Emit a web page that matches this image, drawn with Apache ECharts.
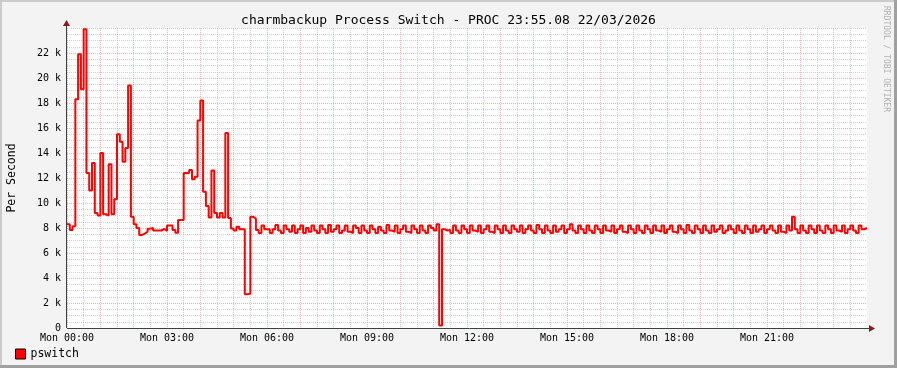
<!DOCTYPE html>
<html><head><meta charset="utf-8">
<script src="https://cdn.jsdelivr.net/npm/echarts@6/dist/echarts.min.js"></script>
<style>html,body{margin:0;padding:0;background:#f3f3f3}#c{width:897px;height:368px}</style>
</head><body><div id="c"></div>
<script>
// ---- data (5-minute steps, values in thousands per second) ----
const stepMinutes = 5;
const pswitchK = [
  // 00:00
  8.3, 7.85, 8.15, 18.3, 21.9, 19.1, 23.9, 12.4, 11.0, 13.2, 9.2, 9.0,
  // 01:00
  14.0, 9.1, 9.0, 13.1, 9.1, 10.3, 15.5, 14.9, 13.3, 14.4, 19.4, 8.9,
  // 02:00
  8.3, 8.0, 7.45, 7.55, 7.7, 7.95, 8.0, 7.8, 7.8, 7.8, 7.92, 7.76,
  // 03:00
  8.2, 8.2, 7.84, 7.63, 8.64, 8.64, 12.4, 12.4, 12.64, 11.9, 12.1, 16.6,
  // 04:00
  18.2, 10.9, 9.76, 8.85, 12.6, 9.2, 8.85, 9.2, 8.85, 15.6, 8.8, 7.97,
  // 05:00
  7.8, 8.1, 7.9, 7.9, 2.7, 2.75, 8.9, 8.75, 7.85, 7.6, 8.2, 7.9,
  // 06:00
  7.9, 7.6, 7.9, 8.25, 7.8, 7.6, 8.2, 7.9, 7.7, 8.2, 7.6, 7.9,
  // 07:00
  8.2, 7.6, 8.0, 7.7, 8.2, 7.8, 7.6, 8.2, 7.9, 7.6, 8.25, 7.7,
  // 08:00
  7.9, 8.2, 7.6, 7.8, 8.2, 7.7, 7.6, 8.2, 8.0, 7.6, 8.2, 7.8,
  // 09:00
  7.6, 8.2, 7.9, 7.6, 8.1, 7.8, 7.6, 8.25, 7.8, 7.7, 8.2, 7.6,
  // 10:00
  7.9, 8.2, 7.7, 7.6, 8.2, 7.9, 7.6, 8.2, 7.8, 7.6, 8.2, 8.0,
  // 11:00
  7.8, 8.3, 0.2, 7.9, 7.8, 7.85, 7.6, 8.2, 7.8, 7.6, 8.2, 7.9,
  // 12:00
  7.6, 8.2, 7.8, 7.7, 8.2, 7.6, 7.9, 8.2, 7.7, 7.6, 8.2, 7.9,
  // 13:00
  7.6, 8.2, 7.8, 7.6, 8.2, 7.9, 7.7, 8.2, 7.6, 7.9, 8.2, 7.8,
  // 14:00
  7.6, 8.25, 7.9, 7.6, 8.2, 7.8, 7.6, 8.2, 7.7, 7.9, 8.2, 7.6,
  // 15:00
  7.9, 8.3, 7.8, 7.6, 8.2, 7.9, 7.6, 8.2, 7.8, 7.6, 8.2, 7.9,
  // 16:00
  7.6, 8.2, 7.8, 7.7, 8.2, 7.6, 7.9, 8.2, 7.7, 7.6, 8.2, 7.9,
  // 17:00
  7.6, 8.2, 7.8, 7.6, 8.2, 7.9, 7.6, 8.2, 7.8, 7.7, 8.2, 7.6,
  // 18:00
  7.9, 8.2, 7.7, 7.6, 8.2, 7.9, 7.6, 8.25, 7.8, 7.6, 8.2, 7.9,
  // 19:00
  7.6, 8.2, 7.8, 7.6, 8.2, 7.7, 7.9, 8.2, 7.6, 7.8, 8.2, 7.9,
  // 20:00
  7.6, 8.2, 7.8, 7.6, 8.2, 7.9, 7.6, 8.2, 7.7, 7.9, 8.2, 7.6,
  // 21:00
  7.9, 8.2, 7.8, 7.6, 8.2, 7.7, 7.6, 8.2, 7.8, 8.9, 7.9, 7.6,
  // 22:00
  8.2, 7.8, 7.6, 8.2, 7.9, 7.6, 8.2, 7.8, 7.6, 8.2, 7.9, 7.6,
  // 23:00
  8.2, 7.8, 7.7, 8.2, 7.6, 7.9, 8.2, 7.8, 7.6, 8.2, 7.9, 8.0
];
const xTickLabels = ['Mon 00:00','Mon 03:00','Mon 06:00','Mon 09:00','Mon 12:00','Mon 15:00','Mon 18:00','Mon 21:00'];
const yTickLabels = ['0','2 k','4 k','6 k','8 k','10 k','12 k','14 k','16 k','18 k','20 k','22 k'];
const seriesName = 'pswitch';
const titleText = 'charmbackup Process Switch - PROC 23:55.08 22/03/2026';
const yAxisTitle = 'Per Second';
const watermark = 'RRDTOOL / TOBI OETIKER';

// ---- layout / style ----
const MONO = '"DejaVu Sans Mono", monospace';
const G = {left: 67, top: 28, width: 800, height: 300};
const MAJOR = 'rgba(220,120,120,0.55)';
const MINOR = 'rgba(150,150,150,0.45)';
const xColors = [], yColors = [];
for (let k = 0; k <= 48; k++) {
  xColors.push(k === 48 ? 'rgba(0,0,0,0)' : (k % 2 === 0 ? MAJOR : MINOR));
  yColors.push(k === 48 ? MINOR : (k % 4 === 0 ? MAJOR : MINOR));
}
const lineData = pswitchK.map((v, i) => [i * stepMinutes, v]);
lineData.push([pswitchK.length * stepMinutes, pswitchK[pswitchK.length - 1]]);

const chart = echarts.init(document.getElementById('c'), null, {renderer: 'canvas'});
const axR = G.left + G.width, axB = G.top + G.height;
chart.setOption({
  animation: false,
  backgroundColor: '#f3f3f3',
  title: {
    text: titleText, left: 'center', top: 9,
    textStyle: {fontFamily: MONO, fontSize: 13, fontWeight: 'normal', color: '#000'}
  },
  legend: {
    left: 15, top: 348, padding: 0, icon: 'rect', itemWidth: 10, itemHeight: 10,
    itemStyle: {borderColor: '#000', borderWidth: 1},
    textStyle: {fontFamily: MONO, fontSize: 11.5, color: '#000'},
    data: [seriesName]
  },
  grid: {left: G.left, top: G.top, width: G.width, height: G.height, show: true,
         backgroundColor: '#ffffff', borderWidth: 0, containLabel: false, outerBoundsMode: 'none'},
  xAxis: {
    type: 'value', min: 0, max: 1440, interval: 30,
    axisLine: {show: false}, axisTick: {show: false},
    axisLabel: {
      fontFamily: MONO, fontSize: 10, color: '#000', margin: 5,
      showMinLabel: true, showMaxLabel: false,
      formatter: v => (v % 180 === 0 && v < 1440) ? xTickLabels[v / 180] : ''
    },
    splitLine: {show: true, lineStyle: {color: xColors, width: 1, type: [1, 1]}}
  },
  yAxis: {
    type: 'value', min: 0, max: 24, interval: 0.5,
    name: yAxisTitle, nameLocation: 'middle', nameRotate: 90, nameGap: 49,
    nameTextStyle: {fontFamily: MONO, fontSize: 11.5, color: '#000'},
    axisLine: {show: false}, axisTick: {show: false},
    axisLabel: {
      fontFamily: MONO, fontSize: 10, color: '#000', margin: 6,
      formatter: v => (v % 2 === 0 && v < 24) ? yTickLabels[v / 2] : ''
    },
    splitLine: {show: true, lineStyle: {color: yColors, width: 1, type: [1, 1]}}
  },
  series: [{
    name: seriesName, type: 'line', step: 'end', data: lineData,
    showSymbol: false, symbol: 'none',
    lineStyle: {color: '#ff0000', width: 2}, itemStyle: {color: '#ff0000'}
  }],
  graphic: [
    {type: 'rect', shape: {x: 0, y: 0, width: 897, height: 2}, style: {fill: '#cbcbcb'}, silent: true},
    {type: 'rect', shape: {x: 0, y: 0, width: 2, height: 368}, style: {fill: '#cbcbcb'}, silent: true},
    {type: 'rect', shape: {x: 0, y: 365, width: 897, height: 3}, style: {fill: '#a0a0a0'}, silent: true},
    {type: 'rect', shape: {x: 894, y: 0, width: 3, height: 368}, style: {fill: '#a0a0a0'}, silent: true},
    {type: 'line', shape: {x1: G.left, y1: axB + 0.5, x2: axR + 5, y2: axB + 0.5},
     style: {stroke: '#404040', lineWidth: 1}, z: 100, silent: true},
    {type: 'line', shape: {x1: G.left - 0.5, y1: axB, x2: G.left - 0.5, y2: G.top - 5},
     style: {stroke: '#404040', lineWidth: 1}, z: 100, silent: true},
    {type: 'polygon', shape: {points: [[axR + 2, axB - 3], [axR + 8, axB + 0.5], [axR + 2, axB + 4]]},
     style: {fill: '#8b1a1a'}, z: 101, silent: true},
    {type: 'polygon', shape: {points: [[G.left - 4, G.top - 2], [G.left - 0.5, G.top - 8], [G.left + 3, G.top - 2]]},
     style: {fill: '#8b1a1a'}, z: 101, silent: true},
    {type: 'text', x: 886, y: 59, rotation: -Math.PI / 2, silent: true,
     style: {text: watermark, fontFamily: MONO, fontSize: 8, fill: '#b0b0b0',
             textAlign: 'center', textVerticalAlign: 'middle'}}
  ]
});
</script>
</body></html>
